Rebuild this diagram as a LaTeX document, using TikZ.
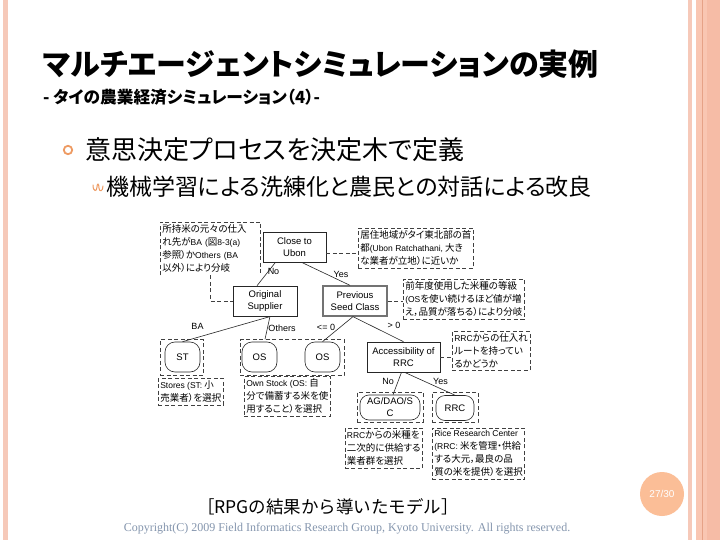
\documentclass[tikz,border=0pt]{standalone}
\usepackage{fontspec}
\setmainfont{Noto Sans CJK JP}[RawFeature=+palt]
\newfontfamily\jpfw{Noto Sans CJK JP}
\newfontfamily\latf{Liberation Sans}
\newfontfamily\serf{Liberation Serif}
\newcommand\ltn[1]{{\latf\fontsize{8.5}{13}\selectfont #1}}
\definecolor{pinkL}{HTML}{F6C9B9}
\definecolor{pinkM}{HTML}{F9C6B2}
\definecolor{pinkD}{HTML}{E6A287}
\definecolor{pinkN}{HTML}{F6BCA6}
\definecolor{bulc}{HTML}{EE9A62}
\definecolor{peach}{HTML}{FBBE97}
\definecolor{copyc}{HTML}{8596AE}
\begin{document}
\begin{tikzpicture}[x=1pt,y=-1pt,
  dn/.style={draw=black!85, line width=0.6pt, fill=white, align=center, font=\latf\fontsize{9.5}{12}\selectfont, inner sep=1pt},
  lf/.style={draw=black!85, line width=0.6pt, rounded corners=10pt, align=center, font=\latf\fontsize{9.5}{12}\selectfont, inner sep=1pt, minimum width=35pt, minimum height=30pt},
  dsh/.style={draw=black!75, line width=0.6pt, dash pattern=on 4pt off 2.5pt},
  grp/.style={dsh, inner sep=0pt},
  nt/.style={dsh, align=left, anchor=north west, font=\fontsize{9.5}{13}\selectfont, inner xsep=2pt, inner ysep=2.5pt},
  lab/.style={font=\latf\fontsize{9}{10}\selectfont, inner sep=0pt},
  con/.style={draw=black!85, line width=0.6pt}]
\useasboundingbox (0,0) rectangle (720,540);
\fill[white] (0,0) rectangle (720,540);
% borders
\fill[pinkL] (3,0) rectangle (8,540);
\fill[pinkL] (688,0) rectangle (692,540);
\fill[pinkM] (696,0) rectangle (720,540);
\fill[pinkN] (707,0) rectangle (720,540);
\fill[pinkD] (702,0) rectangle (703,540);
% title
\node[anchor=base west, font=\bfseries\fontsize{30}{32}\selectfont, inner sep=0pt] (title) at (43,76) {マルチエージェントシミュレーションの実例};
\node[anchor=base west, font=\bfseries\fontsize{16.7}{20}\selectfont, inner sep=0pt] (sub) at (43,104) {- タイの農業経済シミュレーション（4）-};
% bullets
\draw[bulc, line width=1.8pt] (68,150) circle (4.2pt);
\node[anchor=west, font=\fontsize{26}{28}\selectfont, inner sep=0pt] (b1) at (85,150) {意思決定プロセスを決定木で定義};
\draw[bulc, line width=1pt, line cap=round] (93,185) .. controls (93,192) and (97,192) .. (97,187) .. controls (97,183) and (99,183) .. (99,188) .. controls (99,192) and (103,192) .. (103,186);
\node[anchor=west, font=\fontsize{23}{25}\selectfont, inner sep=0pt] (b2) at (106,187) {機械学習による洗練化と農民との対話による改良};
% decision tree nodes
\node[dn, minimum width=63pt, minimum height=30pt] (cu) at (294.5,247) {Close to\\Ubon};
\node[dn, minimum width=64pt, minimum height=30pt] (osup) at (265,301) {Original\\Supplier};
\node[dn, draw=black!55, line width=1.3pt, minimum width=64pt, minimum height=30pt] (psc) at (355,301) {Previous\\Seed Class};
\node[dn, minimum width=73pt, minimum height=30pt] (acc) at (403.5,357) {Accessibility of\\RRC};
% groups and leaves
\node[grp, minimum width=43pt, minimum height=36pt] (stg) at (181.5,357.5) {};
\node[lf] (st) at (182.5,357) {ST};
\node[grp, minimum width=104pt, minimum height=36pt] (osg) at (292,357.5) {};
\node[lf] (os1) at (259.5,357) {OS};
\node[lf] (os2) at (322.5,357) {OS};
\node[grp, minimum width=66pt, minimum height=30pt] (agg) at (390,407) {};
\node[lf, minimum width=60pt, minimum height=25pt, rounded corners=9pt] (ag) at (390,407.5) {AG/DAO/S\\C};
\node[grp, minimum width=46pt, minimum height=30pt] (rrcg) at (455,407) {};
\node[lf, minimum width=38pt, minimum height=25pt, rounded corners=9pt] (rrc) at (455,408) {RRC};
% notes
\node[nt, draw=none, text width=96pt] (n1) at (160,222) {所持米の元々の仕入\\れ先が\ltn{BA (}図\ltn{8-3(a)}\\参照）か\ltn{Others (BA}\\以外）により分岐};
\draw[dsh] (n1.south west) -- (n1.north west) -- (n1.north east) -- (n1.south east);
\draw[dsh] (n1.south) |- (osup.west);
\node[nt] (n2) at (358,228) {居住地域がタイ東北部の首\\都\ltn{(Ubon Ratchathani,} 大き\\な業者が立地）に近いか};
\draw[dsh] ([yshift=-6pt]cu.east) -- ([yshift=-6pt]cu.east -| n2.west);
\node[nt] (n3) at (403,279) {前年度使用した米種の等級\\\ltn{(OS}を使い続けるほど値が増\\え，品質が落ちる）により分岐};
\draw[dsh] (psc.east) -- (psc.east -| n3.west);
\node[nt] (n4) at (452,331) {\ltn{RRC}からの仕入れ\\ルートを持ってい\\るかどうか};
\draw[dsh] (acc.east) -- (acc.east -| n4.west);
\node[nt] (n5) at (158,378) {\ltn{Stores (ST:} 小\\売業者）を選択};
\node[nt] (n6) at (244,376) {\ltn{Own Stock (OS:} 自\\分で備蓄する米を使\\用すること）を選択};
\node[nt, anchor=north east] (n7) at (423,428) {\ltn{RRC}からの米種を\\二次的に供給する\\業者群を選択};
\node[nt] (n8) at (432,428) {\ltn{Rice Research Center}\\\ltn{(RRC:} 米を管理・供給\\する大元，最良の品\\質の米を提供）を選択};
% connectors
\draw[con] ([xshift=-19pt]cu.south) -- ([xshift=-8pt]osup.north);
\draw[con] ([xshift=7pt]cu.south) -- ([xshift=-5pt]psc.north);
\draw[con] ([xshift=6pt]osup.south) -- (st.north);
\draw[con] ([xshift=5pt]osup.south) -- ([xshift=-27pt]osg.north);
\draw[con] ([xshift=-2pt]psc.south) -- (os2.north);
\draw[con] ([xshift=-2pt]psc.south) -- (acc.north);
\draw[con] ([xshift=-2pt]acc.south) -- ([xshift=3pt]ag.north);
\draw[con] ([xshift=1pt]acc.south) -- (rrc.north);
% labels
\node[lab] (l1) at (273.5,271) {No};
\node[lab] (l2) at (341,274) {Yes};
\node[lab] (l3) at (197.5,326.5) {BA};
\node[lab] (l4) at (282,328) {Others};
\node[lab] (l5) at (326,327) {<= 0};
\node[lab] (l6) at (394,325) {> 0};
\node[lab] (l7) at (388,381) {No};
\node[lab] (l8) at (440.5,381) {Yes};
% caption and footer
\node[font=\jpfw\fontsize{17.5}{19}\selectfont, inner sep=0pt] (cap) at (328,507) {［RPGの結果から導いたモデル］};
\node[font=\serf\fontsize{12}{13}\selectfont, text=copyc, inner sep=0pt] (copy) at (347,529) {Copyright(C) 2009 Field Informatics Research Group, Kyoto University. All rights reserved.};
\node[circle, fill=peach, minimum size=44pt, inner sep=0pt, text=white, font=\latf\fontsize{10}{12}\selectfont] (pg) at (662,494) {27/30};
\end{tikzpicture}
\end{document}
